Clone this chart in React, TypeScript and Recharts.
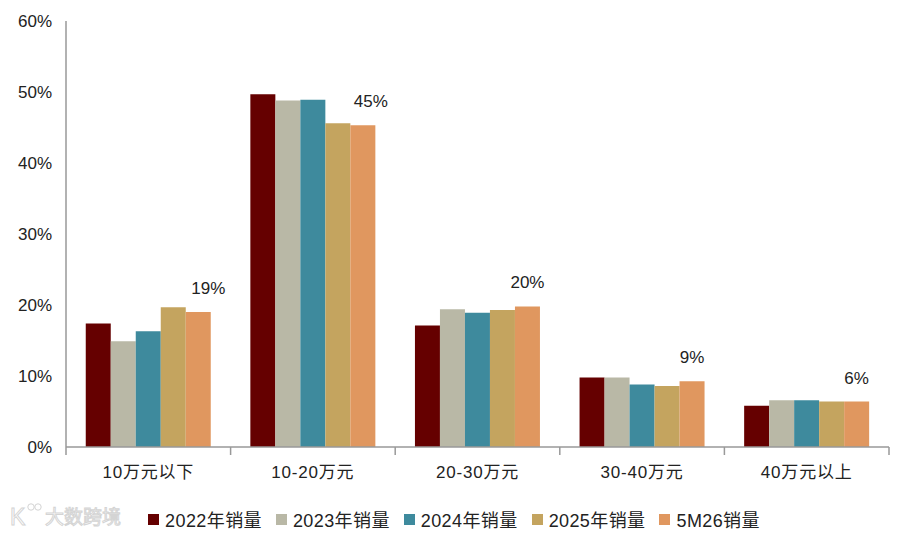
import { Bar, BarChart, LabelList, Legend, XAxis, YAxis } from 'recharts'

const categories = ['10万元以下', '10-20万元', '20-30万元', '30-40万元', '40万元以上']
const s2022 = [17.4, 49.7, 17.1, 9.8, 5.8]
const s2023 = [14.9, 48.8, 19.4, 9.8, 6.6]
const s2024 = [16.3, 48.9, 18.9, 8.8, 6.6]
const s2025 = [19.7, 45.6, 19.3, 8.6, 6.4]
const s5m26 = [19.0, 45.3, 19.8, 9.25, 6.4]
const yTicks = [0, 10, 20, 30, 40, 50, 60]

const series = [
	{ key: 'y2022', name: '2022年销量', color: '#650000', values: s2022 },
	{ key: 'y2023', name: '2023年销量', color: '#B9B8A6', values: s2023 },
	{ key: 'y2024', name: '2024年销量', color: '#3E8A9D', values: s2024 },
	{ key: 'y2025', name: '2025年销量', color: '#C4A45F', values: s2025 },
	{ key: 'm26', name: '5M26销量', color: '#E0975F', values: s5m26 },
]

const data = categories.map((name, i) => {
	const row: Record<string, string | number> = { name }
	series.forEach((s) => {
		row[s.key] = s.values[i]!
	})
	return row
})

const FONT = '"Liberation Sans", Arial, "Noto Sans CJK SC", sans-serif'
const W = 900
const H = 535
const LEFT = 66
const RIGHT = 889
const BAND = (RIGHT - LEFT) / categories.length
// the first two value labels sit a little right of their bar
const labelShift = [10, 8, 0, 0, 0]

function CategoryTick({ x, y, payload, index }: { x?: number; y?: number; payload?: { value: string }; index?: number }) {
	const cx = x ?? 0
	const top = y ?? 0
	return (
		<g>
			<line x1={cx - BAND / 2} x2={cx - BAND / 2} y1={top} y2={top + 8} stroke="#999" strokeWidth={1.5} />
			{index === categories.length - 1 && (
				<line x1={cx + BAND / 2} x2={cx + BAND / 2} y1={top} y2={top + 8} stroke="#999" strokeWidth={1.5} />
			)}
			<text x={cx} y={top + 31} textAnchor="middle" fontSize={17} fill="#222" fontFamily={FONT} letterSpacing={0.8}>
				{payload?.value}
			</text>
		</g>
	)
}

function ChartLegend() {
	return (
		<div
			style={{
				display: 'flex',
				justifyContent: 'center',
				paddingLeft: 22,
				fontFamily: FONT,
				fontSize: 18,
				letterSpacing: 0.4,
				color: '#222',
			}}
		>
			{series.map((s) => (
				<div key={s.key} style={{ display: 'flex', alignItems: 'center', marginRight: 14 }}>
					<span style={{ width: 11, height: 11, background: s.color, marginRight: 6, display: 'inline-block' }} />
					<span>{s.name}</span>
				</div>
			))}
		</div>
	)
}

function TopLabel({ x, y, width, value, index }: { x?: number; y?: number; width?: number; value?: number; index?: number }) {
	return (
		<text
			x={(x ?? 0) + (width ?? 0) / 2 + (labelShift[index ?? 0] ?? 0)}
			y={(y ?? 0) - 18}
			textAnchor="middle"
			fontSize={17}
			fill="#222"
			fontFamily={FONT}
		>
			{Math.round(value ?? 0)}%
		</text>
	)
}

export default function App() {
	return (
		<div style={{ position: 'absolute', left: 0, top: 0, width: W, height: H, background: '#fff' }}>
			<BarChart
				width={W}
				height={H}
				data={data}
				margin={{ top: 21, right: W - RIGHT, bottom: 0, left: 0 }}
				barCategoryGap="12%"
				barGap={0}
			>
				<XAxis
					dataKey="name"
					height={48}
					axisLine={{ stroke: '#999', strokeWidth: 1.5 }}
					tickLine={false}
					tickSize={0}
					tickMargin={0}
					tick={<CategoryTick />}
					interval={0}
				/>
				<YAxis
					width={LEFT}
					domain={[0, 60]}
					ticks={yTicks}
					tickFormatter={(v: number) => `${v}%`}
					axisLine={{ stroke: '#999', strokeWidth: 1.5 }}
					tickLine={false}
					tickSize={6}
					tickMargin={8}
					tick={{ fontSize: 17, fill: '#222', fontFamily: FONT }}
				/>
				<Legend
					verticalAlign="bottom"
					height={40}
					content={<ChartLegend />}
					wrapperStyle={{ left: 0, width: W, top: 506 }}
				/>
				{series.map((s) => (
					<Bar key={s.key} dataKey={s.key} name={s.name} fill={s.color} isAnimationActive={false}>
						{s.key === 'm26' && <LabelList dataKey={s.key} content={<TopLabel />} />}
					</Bar>
				))}
			</BarChart>
			<svg width={130} height={40} style={{ position: 'absolute', left: 0, top: 495 }}>
				<text x={10} y={30} fontSize={23} fill="#fff" stroke="#d4d4d4" strokeWidth={1} fontFamily={FONT}>
					K
				</text>
				<circle cx={31} cy={12} r={3.2} fill="none" stroke="#d4d4d4" />
				<circle cx={38} cy={12} r={3.2} fill="none" stroke="#d4d4d4" />
				<text x={45} y={29} fontSize={19} fill="#fff" stroke="#d4d4d4" strokeWidth={1} fontFamily={FONT}>
					大数跨境
				</text>
			</svg>
		</div>
	)
}
